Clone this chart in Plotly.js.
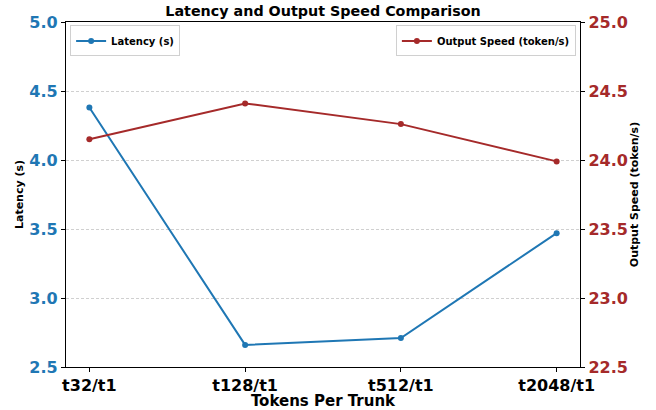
<!DOCTYPE html>
<html><head><meta charset="utf-8">
<script src="https://cdn.plot.ly/plotly-3.0.1.min.js"></script>
<style>html,body{margin:0;padding:0;background:#fff}#c{width:656px;height:410px}</style>
</head><body><div id="c"></div>
<script>
const categories = ["t32/t1", "t128/t1", "t512/t1", "t2048/t1"];
const latency = [4.38, 2.66, 2.71, 3.47];
const outputSpeed = [24.15, 24.41, 24.26, 23.99];
const leftTicks = [2.5, 3.0, 3.5, 4.0, 4.5, 5.0];
const rightTicks = [22.5, 23.0, 23.5, 24.0, 24.5, 25.0];

const blue = "#1f77b4", red = "#a52a2a";
const F = "DejaVu Sans";
const xIdx = categories.map((_, i) => i);

const traces = [
  {x: xIdx, y: latency, name: "Latency (s)", type: "scatter", mode: "lines+markers",
   line: {color: blue, width: 2}, marker: {color: blue, size: 6}, yaxis: "y", legend: "legend"},
  {x: xIdx, y: outputSpeed, name: "Output Speed (token/s)", type: "scatter", mode: "lines+markers",
   line: {color: red, width: 2}, marker: {color: red, size: 6}, yaxis: "y2", legend: "legend2"}
];

const layout = {
  width: 656, height: 410,
  margin: {l: 66, r: 76, t: 22, b: 43},
  paper_bgcolor: "#fff", plot_bgcolor: "#fff",
  title: {text: "Latency and Output Speed Comparison", x: 0.4924, xanchor: "center", y: 0.972, yanchor: "middle",
          font: {family: F, size: 14.3, color: "#000", weight: "bold"}},
  xaxis: {
    range: [-0.15, 3.15], tickmode: "array", tickvals: xIdx, ticktext: categories,
    showline: true, linecolor: "#000", linewidth: 1.2, mirror: true,
    ticks: "outside", ticklen: 4, tickcolor: "#000", showgrid: false, zeroline: false,
    tickfont: {family: F, size: 16, color: "#000", weight: "bold"},
    title: {text: "Tokens Per Trunk", standoff: 3, font: {family: F, size: 15, color: "#000", weight: "bold"}}
  },
  yaxis: {
    range: [2.5, 5.0], tickmode: "array", tickvals: leftTicks, ticktext: leftTicks.map(v => v.toFixed(1)),
    showline: true, linecolor: "#000", linewidth: 1.2,
    ticks: "outside", ticklen: 4, tickcolor: "#000", zeroline: false,
    showgrid: true, gridcolor: "#c4c4c4", griddash: "3px,2px", gridwidth: 0.8,
    tickfont: {family: F, size: 16, color: blue, weight: "bold"},
    title: {text: "Latency (s)", standoff: 3, font: {family: F, size: 11, color: "#000", weight: "bold"}}
  },
  yaxis2: {
    range: [22.5, 25.0], overlaying: "y", side: "right", tickmode: "array", tickvals: rightTicks,
    ticktext: rightTicks.map(v => v.toFixed(1)),
    showline: true, linecolor: "#000", linewidth: 1.2,
    ticks: "outside", ticklen: 4, tickcolor: "#000", zeroline: false, showgrid: false,
    tickfont: {family: F, size: 16, color: red, weight: "bold"},
    title: {text: "Output Speed (token/s)", standoff: 3, font: {family: F, size: 11, color: "#000", weight: "bold"}}
  },
  showlegend: true,
  legend: {x: 0.008, y: 0.99, xanchor: "left", yanchor: "top", bgcolor: "rgba(255,255,255,0.8)",
           bordercolor: "#d0d0d0", borderwidth: 1, font: {family: F, size: 10, color: "#000", weight: "bold"},
           itemwidth: 30, tracegroupgap: 0},
  legend2: {x: 0.992, y: 0.99, xanchor: "right", yanchor: "top", bgcolor: "rgba(255,255,255,0.8)",
           bordercolor: "#d0d0d0", borderwidth: 1, font: {family: F, size: 10, color: "#000", weight: "bold"},
           itemwidth: 30, tracegroupgap: 0}
};

Plotly.newPlot("c", traces, layout, {displayModeBar: false, staticPlot: true});
</script></body></html>
